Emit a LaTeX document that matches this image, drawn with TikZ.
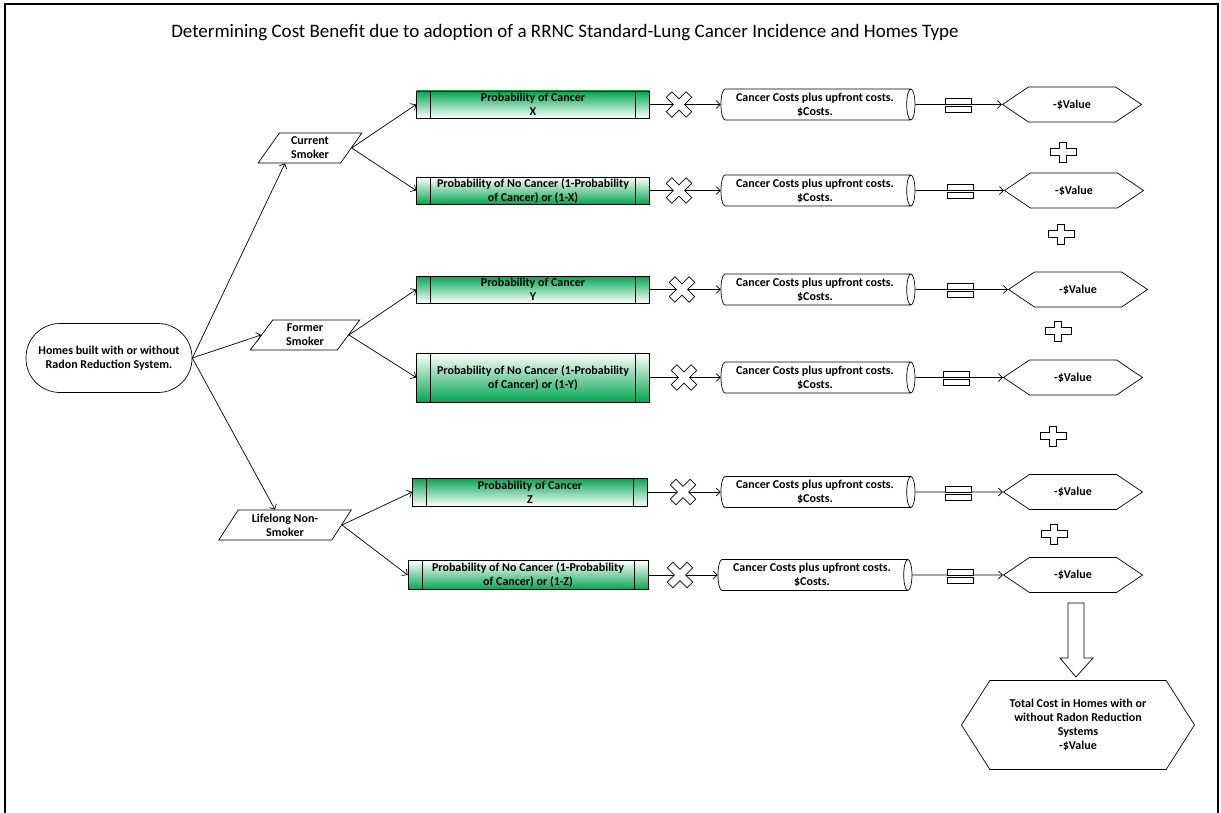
\documentclass[tikz,border=0pt]{standalone}
\usepackage{fontspec}
\setmainfont{Carlito}
\usetikzlibrary{shapes.geometric,shapes.symbols,arrows.meta}
\definecolor{probgreen}{RGB}{0,166,81}

\begin{document}
\begin{tikzpicture}[x=1pt,y=1pt,line width=0.7pt,
        font=\fontsize{12}{14}\selectfont\bfseries,
        every node/.style={align=center,inner sep=1pt},
        arr/.style={-{Straight Barb[length=4pt,width=8pt]}},
        startbox/.style={draw,rounded corners=34pt,minimum width=166pt,minimum height=69pt},
        smoker/.style={draw,trapezium,trapezium left angle=60,trapezium right angle=120,trapezium stretches=true,minimum height=30pt},
        probbox/.style={draw,minimum width=233pt,minimum height=27pt,
            path picture={
                \draw ([xshift=14pt]path picture bounding box.north west) -- ([xshift=14pt]path picture bounding box.south west);
                \draw ([xshift=-14pt]path picture bounding box.north east) -- ([xshift=-14pt]path picture bounding box.south east);
            }},
        yes/.style={top color=probgreen,bottom color=white},
        no/.style={top color=white,bottom color=probgreen},
        costcyl/.style={draw,cylinder,shape aspect=0.32,minimum height=194pt,minimum width=31pt},
        valhex/.style={draw,signal,signal to=west and east,signal pointer angle=68,minimum width=139pt,minimum height=35pt}]
        \useasboundingbox (0,-813) rectangle (1221,0);
        \draw[line width=2.5pt] (5,-813) -- (5,-4) -- (1218,-4) -- (1218,-813);

        \node (title) at (565,-33) {\fontsize{19}{22}\selectfont\mdseries Determining Cost Benefit due to adoption of a RRNC Standard-Lung Cancer Incidence and Homes Type};

        \node (home) at (109,-358) [startbox] {Homes built with or without\\Radon Reduction System.};
        \node (cur) at (310,-148) [smoker,minimum width=104pt] {Current\\Smoker};
        \node (former) at (305,-335) [smoker,minimum width=110pt] {Former\\Smoker};
        \node (life) at (285,-525) [smoker,minimum width=133pt] {Lifelong Non-\\Smoker};

        \node (pc1) at (533,-104.5) [probbox,yes] {Probability of Cancer\\X};
        \node (pc2) at (533,-190.5) [probbox,no] {Probability of No Cancer (1-Probability\\of Cancer) or (1-X)};
        \node (pc3) at (533,-289.5) [probbox,yes] {Probability of Cancer\\Y};
        \node (pc4) at (533,-377.5) [probbox,no,minimum height=49pt] {Probability of No Cancer (1-Probability\\of Cancer) or (1-Y)};
        \node (pc5) at (530,-492) [probbox,yes,minimum width=235pt,minimum height=28pt] {Probability of Cancer\\Z};
        \node (pc6) at (528,-575) [probbox,no,minimum width=240pt,minimum height=29pt] {Probability of No Cancer (1-Probability\\of Cancer) or (1-Z)};

        \node (cost1) at (815,-104.5) [costcyl] {Cancer Costs plus upfront costs.\\\$Costs.};
        \node (cost2) at (815,-190.5) [costcyl] {Cancer Costs plus upfront costs.\\\$Costs.};
        \node (cost3) at (815,-289.5) [costcyl] {Cancer Costs plus upfront costs.\\\$Costs.};
        \node (cost4) at (815,-377.5) [costcyl] {Cancer Costs plus upfront costs.\\\$Costs.};
        \node (cost5) at (815,-492) [costcyl] {Cancer Costs plus upfront costs.\\\$Costs.};
        \node (cost6) at (812,-575) [costcyl] {Cancer Costs plus upfront costs.\\\$Costs.};

        \node (val1) at (1072,-104.5) [valhex] {-\$Value};
        \node (val2) at (1074,-190.5) [valhex] {-\$Value};
        \node (val3) at (1078,-289.5) [valhex] {-\$Value};
        \node (val4) at (1073,-377.5) [valhex] {-\$Value};
        \node (val5) at (1073,-492) [valhex] {-\$Value};
        \node (val6) at (1073,-575) [valhex] {-\$Value};

        \node (total) at (1078,-725) [draw,signal,signal to=west and east,signal pointer angle=115,minimum width=233pt,minimum height=89pt] {Total Cost in Homes with or\\without Radon Reduction\\Systems\\-\$Value};

        \draw[arr] (home.east) -- ([xshift=-25pt]cur.south);
        \draw[arr] (home.east) -- (former.west);
        \draw[arr] (home.east) -- ([xshift=-10pt]life.north);
        \draw[arr] (cur.east) -- (pc1.west);
        \draw[arr] (cur.east) -- (pc2.west);
        \draw[arr] (former.east) -- (pc3.west);
        \draw[arr] (former.east) -- (pc4.west);
        \draw[arr] (life.east) -- (pc5.west);
        \draw[arr] (life.east) -- (pc6.west);

        \foreach \i in {1,...,6} {
            \draw[arr] (pc\i.east) -- (cost\i.west);
            \draw[arr] (cost\i.east) -- (val\i.west);
        }

        \foreach \x/\y in {679/104.5, 679/190.5, 682/289.5, 684/377.5, 683/492, 680/575}
            \draw[fill=white,shift={(\x,-\y)},rotate=45] (4,14) -- (4,4) -- (14,4) -- (14,-4) -- (4,-4) -- (4,-14)
            -- (-4,-14) -- (-4,-4) -- (-14,-4) -- (-14,4) -- (-4,4) -- (-4,14) -- cycle;

        \foreach \x/\y in {958/104.5, 960/190.5, 960/289.5, 956/377.5, 958/492, 960/575} {
            \draw[fill=white] (\x-13,-\y+6) rectangle (\x+13,-\y);
            \draw[fill=white] (\x-13,-\y-2) rectangle (\x+13,-\y-8);
        }

        \foreach \x/\y in {1063/152, 1061/234, 1058/331, 1053/436, 1054/534}
            \draw[fill=white,shift={(\x,-\y)}] (3.5,10) -- (3.5,3.5) -- (13,3.5) -- (13,-3.5) -- (3.5,-3.5) -- (3.5,-10)
            -- (-3.5,-10) -- (-3.5,-3.5) -- (-13,-3.5) -- (-13,3.5) -- (-3.5,3.5) -- (-3.5,10) -- cycle;

        \draw (1068,-603) -- (1084,-603) -- (1084,-658) -- (1093,-658) -- (1076,-677) -- (1060,-658) -- (1068,-658) -- cycle;
\end{tikzpicture}
\end{document}
